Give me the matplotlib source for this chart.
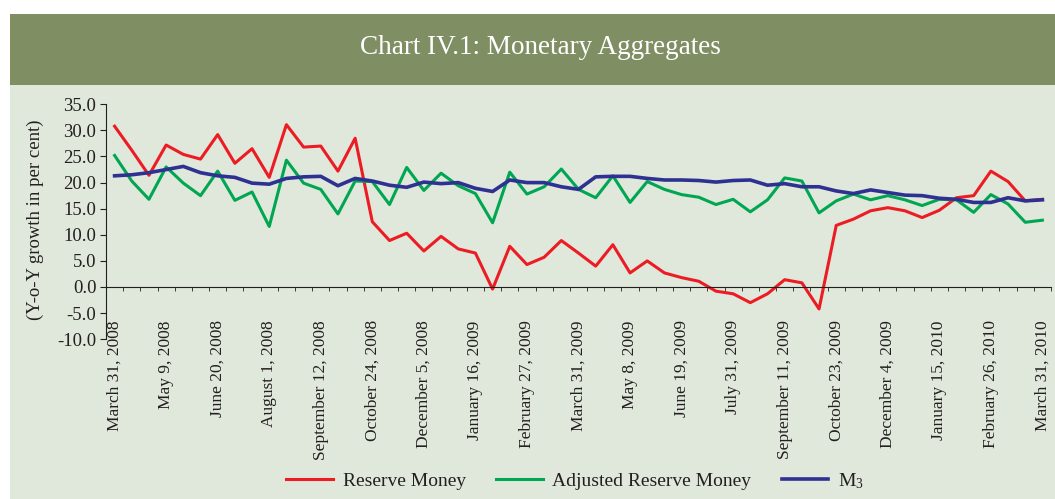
import numpy as np
import matplotlib
matplotlib.use('Agg')
import matplotlib.pyplot as plt
from matplotlib.patches import Rectangle

plt.rcParams['font.family'] = ['Liberation Serif', 'DejaVu Serif']
plt.rcParams['axes.unicode_minus'] = False
plt.rcParams['mathtext.default'] = 'regular'

# fortnightly observations, March 31, 2008 .. March 31, 2010 (55 points)
tick_labels = ['March 31, 2008', 'May 9, 2008', 'June 20, 2008', 'August 1, 2008',
               'September 12, 2008', 'October 24, 2008', 'December 5, 2008',
               'January 16, 2009', 'February 27, 2009', 'March 31, 2009',
               'May 8, 2009', 'June 19, 2009', 'July 31, 2009',
               'September 11, 2009', 'October 23, 2009', 'December 4, 2009',
               'January 15, 2010', 'February 26, 2010', 'March 31, 2010']

reserve_money = [30.8, 26.2, 21.4, 27.2, 25.4, 24.5, 29.2, 23.7, 26.5, 21.0,
                 31.1, 26.8, 27.0, 22.2, 28.5, 12.5, 8.9, 10.3, 6.9, 9.7,
                 7.3, 6.5, -0.4, 7.8, 4.3, 5.7, 8.9, 6.5, 4.0, 8.1,
                 2.7, 5.0, 2.7, 1.8, 1.1, -0.8, -1.3, -3.0, -1.3, 1.4,
                 0.8, -4.2, 11.8, 13.0, 14.6, 15.2, 14.6, 13.3, 14.7, 17.1,
                 17.5, 22.2, 20.2, 16.5, 16.8]

adjusted_rm = [25.2, 20.3, 16.8, 23.0, 19.9, 17.5, 22.2, 16.6, 18.2, 11.6,
               24.3, 19.9, 18.7, 14.0, 20.3, 20.2, 15.8, 22.9, 18.5, 21.8,
               19.4, 17.9, 12.3, 22.0, 17.8, 19.2, 22.6, 18.7, 17.1, 21.3,
               16.2, 20.2, 18.7, 17.7, 17.2, 15.8, 16.8, 14.4, 16.7, 20.9,
               20.3, 14.2, 16.5, 17.8, 16.7, 17.5, 16.7, 15.6, 16.8, 16.7,
               14.3, 17.7, 15.9, 12.4, 12.8]

m3 = [21.3, 21.5, 21.9, 22.5, 23.1, 21.9, 21.3, 21.0, 19.9, 19.7,
      20.8, 21.1, 21.2, 19.4, 20.8, 20.3, 19.5, 19.1, 20.1, 19.8,
      20.0, 18.9, 18.3, 20.5, 20.0, 20.0, 19.2, 18.7, 21.1, 21.2,
      21.2, 20.8, 20.5, 20.5, 20.4, 20.1, 20.4, 20.5, 19.5, 19.8,
      19.2, 19.2, 18.4, 17.9, 18.6, 18.1, 17.6, 17.5, 17.0, 16.8,
      16.2, 16.2, 17.1, 16.5, 16.7]

W, H = 1055, 499
fig = plt.figure(figsize=(W / 100, H / 100), dpi=100)
fig.patch.set_facecolor('white')

# title banner and light background panel (behind the axes)
fig.patches.append(Rectangle((10 / W, 0), 1, 1 - 85 / H, transform=fig.transFigure,
                             facecolor='#DFE8DA', edgecolor='none', zorder=-10))
fig.patches.append(Rectangle((10 / W, 1 - 85 / H), 1, 71 / H, transform=fig.transFigure,
                             facecolor='#808F63', edgecolor='none', zorder=-10))
fig.text(540 / W, 1 - 48 / H, 'Chart IV.1: Monetary Aggregates', color='white',
         ha='center', va='center', fontsize=19.5)

ax = fig.add_axes([106 / W, 1 - 339.2 / H, 945 / W, 234.9 / H])
ax.set_facecolor('none')

x = np.arange(len(reserve_money))
ax.plot(x, reserve_money, color='#ED1C24', lw=2.2, label='Reserve Money')
ax.plot(x, adjusted_rm, color='#00A651', lw=2.2, label='Adjusted Reserve Money')
ax.plot(x, m3, color='#2E3192', lw=2.6, label='M$_3$')

ax.set_xlim(-0.5, len(x) - 0.5)
ax.set_ylim(-10, 35)
ax.set_yticks(np.arange(-10, 36, 5))
ax.set_yticklabels(['%.1f' % v for v in np.arange(-10, 36, 5)], fontsize=13.5, color='#231F20')

ax.spines['top'].set_visible(False)
ax.spines['right'].set_visible(False)
ax.spines['bottom'].set_position(('data', 0))
ax.spines['left'].set_color('#231F20')
ax.spines['bottom'].set_color('#231F20')

ax.set_xticks(x[::3])
ax.set_xticklabels(tick_labels, rotation=90, fontsize=12.5, color='#231F20', va='top')
ax.set_xticks(np.arange(-0.5, len(x), 1), minor=True)
ax.tick_params(axis='x', which='major', length=0, pad=24)
ax.tick_params(axis='x', which='minor', length=3, direction='out', color='#231F20')
ax.tick_params(axis='y', length=4, color='#231F20', pad=3)

fig.text(35 / W, 1 - 220 / H, '(Y-o-Y growth in per cent)', rotation=90,
         ha='center', va='center', fontsize=13.5, color='#231F20')

fig.legend(loc='center', bbox_to_anchor=(575 / W, 1 - 481 / H), ncol=3,
           frameon=False, fontsize=14, handlelength=2.4, handletextpad=0.5,
           columnspacing=1.55, labelcolor='#231F20')

fig.savefig('out.png', dpi=100, facecolor=fig.get_facecolor())
